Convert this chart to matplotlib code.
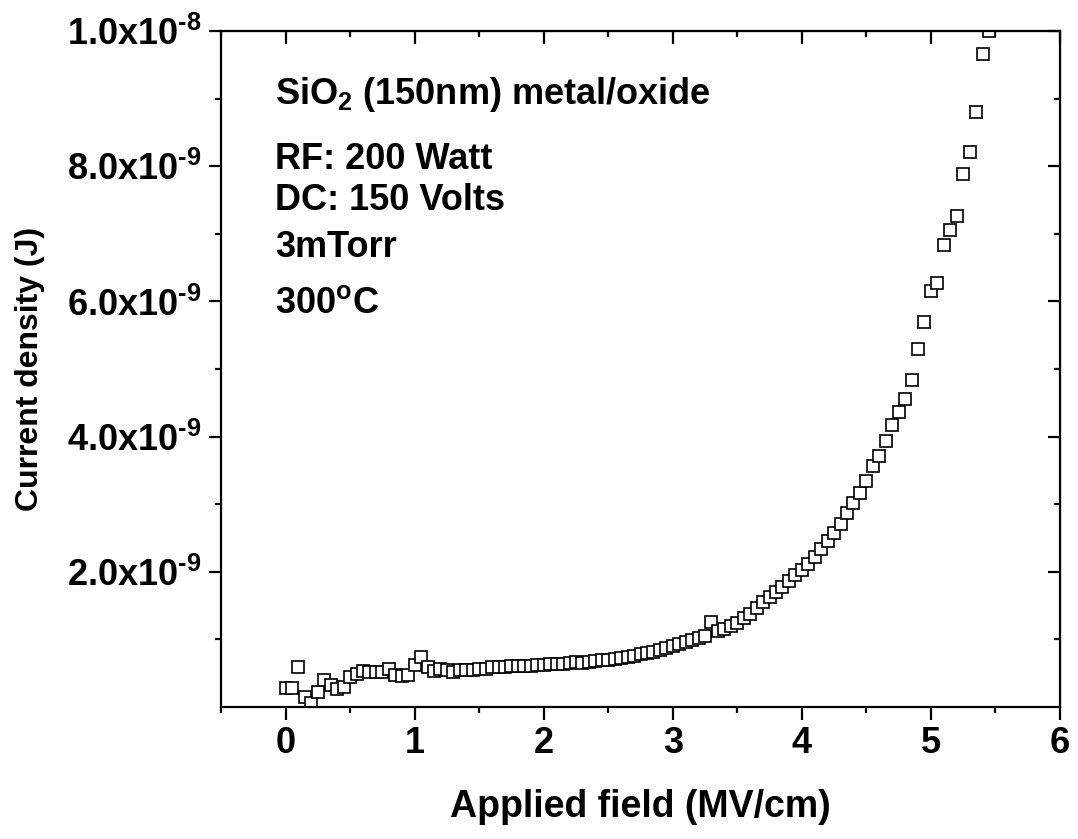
import numpy as np
import matplotlib
matplotlib.use('Agg')
import matplotlib.pyplot as plt
from matplotlib.ticker import FixedLocator, MultipleLocator

plt.rcParams['font.family'] = ['Liberation Sans', 'DejaVu Sans']
plt.rcParams['font.weight'] = 'bold'
plt.rcParams['mathtext.fontset'] = 'custom'
plt.rcParams['mathtext.rm'] = 'Liberation Sans:bold'
plt.rcParams['mathtext.bf'] = 'Liberation Sans:bold'
plt.rcParams['mathtext.it'] = 'Liberation Sans:bold'

# applied field (MV/cm), 0.05 steps
field = np.round(np.arange(0, 5.451, 0.05), 2)

# current density in units of 1e-9
current_e9 = [
    0.28, 0.28, 0.59, 0.15, 0.06, 0.22, 0.40, 0.33, 0.27, 0.30,
    0.44, 0.49, 0.53, 0.52, 0.52, 0.52, 0.56, 0.47, 0.46, 0.47,
    0.62, 0.74, 0.59, 0.53, 0.56, 0.55, 0.52, 0.55, 0.55, 0.54,
    0.56, 0.56, 0.59, 0.59, 0.59, 0.60, 0.60, 0.61, 0.61, 0.62,
    0.62, 0.63, 0.63, 0.64, 0.65, 0.67, 0.65, 0.67, 0.68, 0.69,
    0.70, 0.71, 0.73, 0.74, 0.76, 0.78, 0.80, 0.82, 0.84, 0.87,
    0.90, 0.93, 0.96, 0.99, 1.02, 1.05, 1.26, 1.12, 1.16, 1.20,
    1.24, 1.32, 1.38, 1.46, 1.55, 1.62, 1.70, 1.78, 1.86, 1.95,
    2.03, 2.12, 2.22, 2.34, 2.45, 2.58, 2.71, 2.87, 3.02, 3.16,
    3.35, 3.56, 3.72, 3.93, 4.17, 4.36, 4.56, 4.83, 5.30, 5.70,
    6.16, 6.27, 6.84, 7.05, 7.27, 7.88, 8.21, 8.80, 9.66, 10.0,
]
current = np.array(current_e9) * 1e-9

y_ticks = [2e-9, 4e-9, 6e-9, 8e-9, 1e-8]
y_ticklabels = ['2.0x10$^{\u2010 9}$', '4.0x10$^{\u2010 9}$', '6.0x10$^{\u2010 9}$',
                '8.0x10$^{\u2010 9}$', '1.0x10$^{\u2010 8}$']
y_minor = [1e-9, 3e-9, 5e-9, 7e-9, 9e-9]

notes = [r'SiO$_{2}$ (150nm) metal/oxide', 'RF: 200 Watt', 'DC: 150 Volts',
         '3mTorr', r'300$^{o}$C']

fig = plt.figure(figsize=(10.78, 8.39), dpi=100)
ax = fig.add_axes([221 / 1078, 1 - 707 / 839, (1060 - 221) / 1078, (707 - 31) / 839])

ax.plot(field, current, 's', ms=9.2, mfc='white', mec='black', mew=1.2)

ax.set_xlim(-0.5, 6)
ax.set_ylim(0, 1e-8)
ax.xaxis.set_major_locator(MultipleLocator(1))
ax.xaxis.set_minor_locator(MultipleLocator(0.5))
ax.yaxis.set_major_locator(FixedLocator(y_ticks))
ax.yaxis.set_minor_locator(FixedLocator(y_minor))
ax.set_yticklabels(y_ticklabels)

for s in ax.spines.values():
    s.set_linewidth(1.6)
ax.tick_params(which='both', direction='out', width=1.6, labelsize=26, pad=5)
ax.tick_params(which='major', length=9)
ax.tick_params(which='minor', length=4.5)

# mirrored ticks on top and right, pointing inwards
top = ax.secondary_xaxis('top')
top.xaxis.set_major_locator(MultipleLocator(1))
top.xaxis.set_minor_locator(MultipleLocator(0.5))
top.tick_params(which='both', direction='in', width=1.6, labeltop=False)
top.tick_params(which='major', length=9)
top.tick_params(which='minor', length=4.5)
right = ax.secondary_yaxis('right')
right.yaxis.set_major_locator(FixedLocator(y_ticks))
right.yaxis.set_minor_locator(FixedLocator(y_minor))
right.tick_params(which='both', direction='in', width=1.6, labelright=False)
right.tick_params(which='major', length=9)
right.tick_params(which='minor', length=4.5)

ax.set_xlabel('Applied field (MV/cm)', fontsize=27, fontweight='bold', labelpad=20)
ax.set_ylabel('Current density (J)', fontsize=23, fontweight='bold', labelpad=16)

baselines = [104, 169, 210, 257, 313]
for txt, yb in zip(notes, baselines):
    fig.text(275 / 1078, 1 - yb / 839, txt, fontsize=26, fontweight='bold',
             va='baseline', ha='left')

fig.savefig('out.png', dpi=100)
